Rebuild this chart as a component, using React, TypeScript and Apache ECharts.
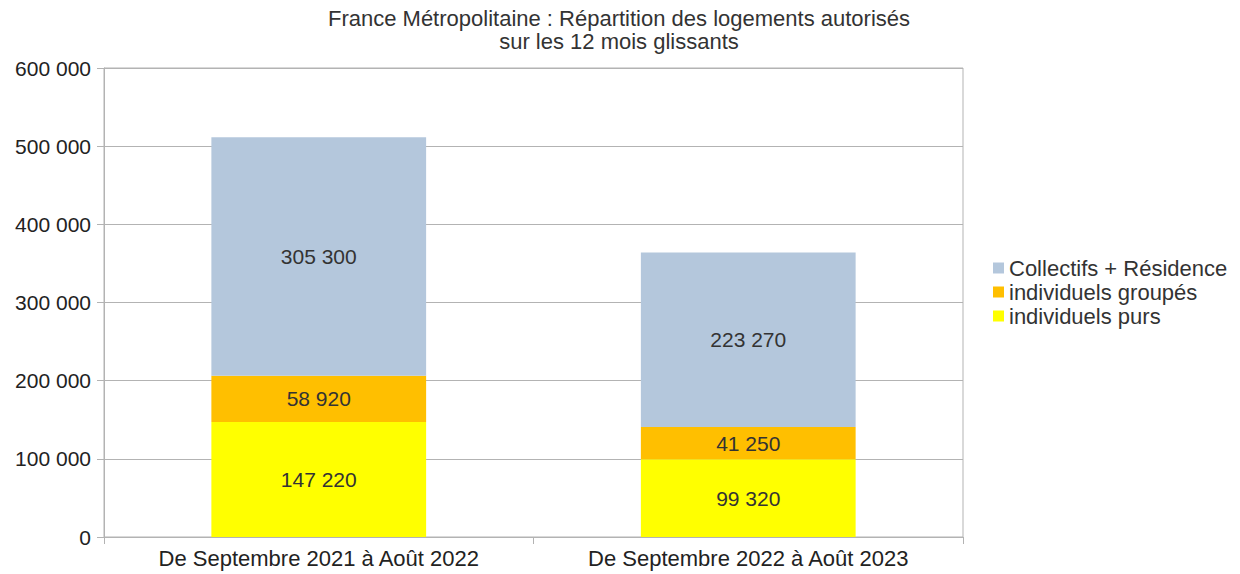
import React, { useEffect, useRef } from "react";
import * as echarts from "echarts";

const categories = ["De Septembre 2021 à Août 2022", "De Septembre 2022 à Août 2023"];
const individuelsPurs = [147220, 99320];
const individuelsGroupes = [58920, 41250];
const collectifs = [305300, 223270];
const seriesNames = ["Collectifs + Résidence", "individuels groupés", "individuels purs"];

const fmt = (v: number) => String(Math.round(v)).replace(/\B(?=(\d{3})+(?!\d))/g, " ");

export default function App() {
  const ref = useRef<HTMLDivElement>(null);
  useEffect(() => {
    if (!ref.current) return;
    const chart = echarts.init(ref.current, null, { renderer: "svg" });
    const font = "'Liberation Sans', Arial, sans-serif";
    const label = {
      show: true,
      position: "inside",
      fontFamily: font,
      fontSize: 21,
      color: "#333333",
      formatter: (p: any) => fmt(p.value),
    };
    chart.setOption({
      animation: false,
      backgroundColor: "#ffffff",
      textStyle: { fontFamily: font },
      title: {
        text: "France Métropolitaine : Répartition des logements autorisés\nsur les 12 mois glissants",
        left: 614,
        textAlign: "center",
        top: 2,
        textStyle: { fontFamily: font, fontSize: 22, fontWeight: "normal", color: "#333333", lineHeight: 23 },
      },
      legend: {
        orient: "vertical",
        left: 988,
        top: 252,
        itemWidth: 11,
        itemHeight: 11,
        itemGap: 2,
        icon: "rect",
        data: seriesNames,
        textStyle: { fontFamily: font, fontSize: 22, color: "#333333" },
      },
      grid: {
        left: 104,
        right: 277,
        top: 68,
        bottom: 37,
        show: true,
        borderColor: "#b3b3b3",
        borderWidth: 1,
      },
      xAxis: {
        type: "category",
        data: categories,
        axisLine: { lineStyle: { color: "#b3b3b3" } },
        axisTick: { show: true, length: 7, alignWithLabel: false, lineStyle: { color: "#b3b3b3" } },
        axisLabel: { fontFamily: font, fontSize: 22, color: "#222222", margin: 10 },
      },
      yAxis: {
        type: "value",
        min: 0,
        max: 600000,
        interval: 100000,
        axisLine: { show: true, lineStyle: { color: "#b3b3b3" } },
        axisTick: { show: true, length: 7, lineStyle: { color: "#b3b3b3" } },
        splitLine: { lineStyle: { color: "#b3b3b3" } },
        axisLabel: { fontFamily: font, fontSize: 21, color: "#222222", margin: 13, formatter: (v: number) => fmt(v) },
      },
      series: [
        {
          name: "individuels purs",
          type: "bar",
          stack: "total",
          barWidth: "50%",
          data: individuelsPurs,
          itemStyle: { color: "#ffff00" },
          label,
        },
        {
          name: "individuels groupés",
          type: "bar",
          stack: "total",
          data: individuelsGroupes,
          itemStyle: { color: "#ffbf00" },
          label,
        },
        {
          name: "Collectifs + Résidence",
          type: "bar",
          stack: "total",
          data: collectifs,
          itemStyle: { color: "#b4c7dc" },
          label,
        },
      ],
    });
    return () => chart.dispose();
  }, []);
  return <div ref={ref} style={{ width: 1240, height: 574, position: "absolute", left: 0, top: 0 }} />;
}
